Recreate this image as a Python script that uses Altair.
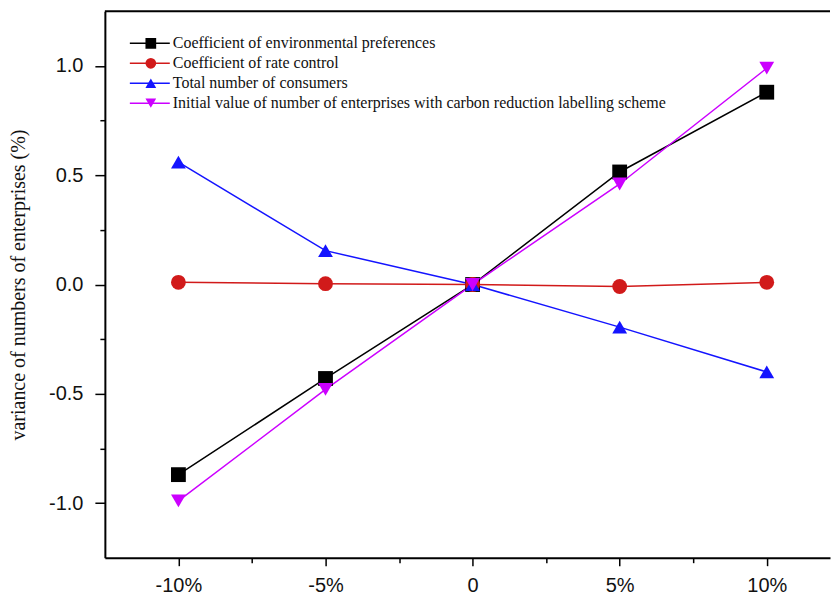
import altair as alt
import pandas as pd

# Relative change of each parameter (%)
levels = [-10, -5, 0, 5, 10]

series_names = [
    "Coefficient of environmental preferences",
    "Coefficient of rate control",
    "Total number of consumers",
    "Initial value of number of enterprises with carbon reduction labelling scheme",
]

# Variance of the number of enterprises (%) for each parameter
env_preferences = [-0.87, -0.43, 0.0, 0.515, 0.88]
rate_control = [0.01, 0.004, 0.0, -0.009, 0.01]
total_consumers = [0.56, 0.155, 0.0, -0.195, -0.40]
initial_enterprises = [-0.99, -0.48, 0.0, 0.46, 0.99]

series_values = [env_preferences, rate_control, total_consumers, initial_enterprises]

colors = ["#000000", "#d11a1a", "#1414ff", "#cc00ff"]
shapes = ["square", "circle", "triangle-up", "triangle-down"]

rows = []
for name, vals in zip(series_names, series_values):
    for lv, v in zip(levels, vals):
        rows.append({"level": lv, "value": v, "series": name, "marker": name})
df = pd.DataFrame(rows)

W, H = 726, 547
LEGEND_FONT = 16

x_enc = alt.X(
    "level:Q",
    scale=alt.Scale(domain=[-12.5, 12.15], nice=False, zero=False),
    axis=alt.Axis(
        values=[-10, -7.5, -5, -2.5, 0, 2.5, 5, 7.5, 10],
        labelExpr="datum.value % 5 !== 0 ? '' : (datum.value === 0 ? '0' : (datum.value < 0 ? '-' : '') + format(abs(datum.value), 'd') + '%')",
        title=None,
        grid=False,
        domainColor="black",
        domainWidth=2,
        tickColor="black",
        tickWidth=1.5,
        tickSize={"condition": {"test": "datum.value % 5 !== 0", "value": 5}, "value": 8},
        labelFont="Liberation Sans",
        labelFontSize=20,
        labelColor="#111111",
        labelPadding=10,
        labelFlush=False,
    ),
)

y_enc = alt.Y(
    "value:Q",
    scale=alt.Scale(domain=[-1.25, 1.25], nice=False, zero=False),
    axis=alt.Axis(
        values=[-1, -0.75, -0.5, -0.25, 0, 0.25, 0.5, 0.75, 1],
        labelExpr="datum.value % 0.5 !== 0 ? '' : (datum.value < 0 ? '-' : '') + format(abs(datum.value), '.1f')",
        title="variance of numbers of enterprises (%)",
        titleFont="Liberation Serif",
        titleFontSize=20,
        titleFontWeight="normal",
        titleColor="#111111",
        titlePadding=20,
        grid=False,
        domainColor="black",
        domainWidth=2,
        tickColor="black",
        tickWidth=1.5,
        tickSize={"condition": {"test": "datum.value % 0.5 !== 0", "value": 5}, "value": 10},
        labelFont="Liberation Sans",
        labelFontSize=20,
        labelColor="#111111",
        labelPadding=12,
    ),
)

# Connecting lines; their legend draws the line part of each key
lines = alt.Chart(df).mark_line(strokeWidth=1.5).encode(
    x=x_enc,
    y=y_enc,
    stroke=alt.Stroke(
        "series:N",
        scale=alt.Scale(domain=series_names, range=colors),
        legend=alt.Legend(
            title=None,
            orient="none",
            legendX=24,
            legendY=22,
            symbolType="stroke",
            symbolSize=1600,
            symbolStrokeWidth=1.5,
            clipHeight=20,
            rowPadding=0,
            padding=0,
            labelFont="Liberation Serif",
            labelFontSize=LEGEND_FONT,
            labelColor="#111111",
            labelOffset=2,
            labelLimit=0,
        ),
    ),
)

# Markers; their label-less legend sits on top of the line keys
marker_legend = alt.Legend(
    title=None,
    orient="none",
    legendX=38,
    legendY=22,
    symbolSize=115,
    symbolStrokeWidth=0,
    symbolOpacity=1,
    clipHeight=20,
    rowPadding=0,
    padding=0,
    labelFont="Liberation Serif",
    labelFontSize=LEGEND_FONT,
    labelExpr="''",
)

points = alt.Chart(df).mark_point(filled=True, opacity=1, size=220).encode(
    x=x_enc,
    y=y_enc,
    color=alt.Color(
        "marker:N",
        scale=alt.Scale(domain=series_names, range=colors),
        legend=marker_legend,
    ),
    shape=alt.Shape(
        "marker:N",
        scale=alt.Scale(domain=series_names, range=shapes),
        legend=marker_legend,
    ),
)

top_border = alt.Chart(alt.Data(values=[{}])).mark_rule(
    color="black", strokeWidth=2
).encode(x=alt.value(0), x2=alt.value(W), y=alt.value(0))

chart = (
    alt.layer(lines, points, top_border)
    .resolve_legend(stroke="independent")
    .properties(
        width=W,
        height=H,
        background="white",
        padding={"left": 8, "top": 10, "right": 0, "bottom": 0},
    )
    .configure_view(stroke=None)
)

chart.save("out.html", embed_options={"renderer": "svg", "actions": False})
